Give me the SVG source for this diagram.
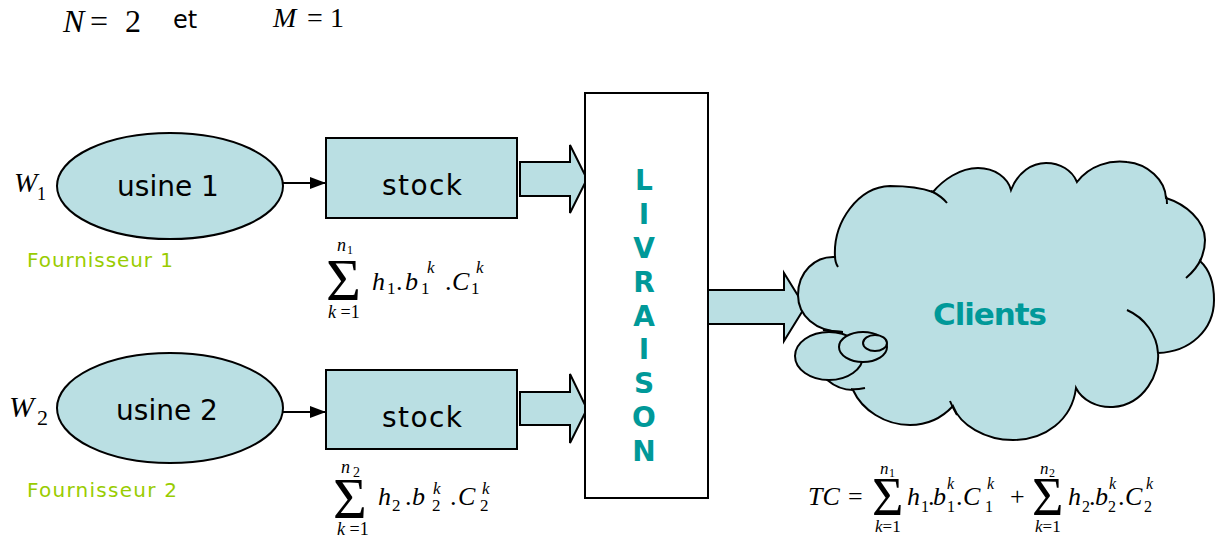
<svg xmlns="http://www.w3.org/2000/svg" width="1215" height="539" viewBox="0 0 1215 539">
<style>
.shape{fill:#BADFE3;stroke:#000;stroke-width:2}
.hint{fill:none;stroke:#000;stroke-width:2}
.lbl{font-family:"DejaVu Sans",sans-serif;font-size:28px;fill:#000;text-anchor:middle}
.four{font-family:"DejaVu Sans",sans-serif;font-size:20px;fill:#99CC00}
.teal{font-family:"DejaVu Sans",sans-serif;font-weight:bold;fill:#009999;text-anchor:middle}
.m{font-family:"Liberation Serif","Times New Roman",serif;fill:#000}
.i{font-style:italic}
</style>
<defs>
<marker id="ah" markerWidth="16" markerHeight="12" refX="16" refY="6" orient="auto" markerUnits="userSpaceOnUse">
<path d="M0,0 L16,6 L0,12 Z" fill="#000"/>
</marker>
</defs>

<g id="header">
<text class="m" font-size="32"><tspan x="63" y="32" font-style="italic">N</tspan><tspan x="90" y="32">=</tspan><tspan x="125" y="32">2</tspan></text>
<text x="173" y="28" font-family="DejaVu Sans,sans-serif" font-size="24">et</text>
<text class="m" font-size="28"><tspan x="273" y="27" font-style="italic">M</tspan><tspan x="307" y="27">=</tspan><tspan x="330" y="27">1</tspan></text>
</g>

<g id="connectors">
<line x1="283" y1="183" x2="326" y2="183" stroke="#000" stroke-width="2" marker-end="url(#ah)"/>
<line x1="283" y1="412" x2="326" y2="412" stroke="#000" stroke-width="2" marker-end="url(#ah)"/>
<polygon class="shape" points="520,162 570,162 570,145 587,179 570,213 570,196 520,196"/>
<polygon class="shape" points="520,392 570,392 570,374 587,409 570,443 570,425 520,425"/>
<polygon class="shape" points="708,290 784,290 784,273 805,307 784,341 784,324 708,324"/>
</g>

<g id="usine1">
<ellipse class="shape" cx="170" cy="186" rx="113" ry="53"/>
<text class="lbl" x="168" y="196">usine 1</text>
<text class="m"><tspan x="14" y="192" font-size="28" font-style="italic">W</tspan><tspan x="37" y="200" font-size="18">1</tspan></text>
<text class="four" x="27" y="267" textLength="146">Fournisseur 1</text>
</g>

<g id="usine2">
<ellipse class="shape" cx="170" cy="408" rx="113" ry="55"/>
<text class="lbl" x="167" y="420">usine 2</text>
<text class="m"><tspan x="9" y="417" font-size="30" font-style="italic">W</tspan><tspan x="37" y="425" font-size="22">2</tspan></text>
<text class="four" x="27" y="497" textLength="150">Fournisseur 2</text>
</g>

<g id="stock1">
<rect class="shape" x="326" y="138" width="191" height="80"/>
<text class="lbl" x="422" y="195" textLength="80">stock</text>
</g>

<g id="stock2">
<rect class="shape" x="326" y="370" width="191" height="79"/>
<text class="lbl" x="422" y="427" textLength="80">stock</text>
</g>

<g id="formula1">
<text class="m" font-size="26"><tspan x="337" y="251" font-size="18" font-style="italic">n</tspan><tspan x="347" y="254" font-size="12">1</tspan><tspan x="326" y="300" font-size="60">Σ</tspan><tspan x="328" y="318" font-size="18" font-style="italic">k</tspan><tspan font-size="18"> =1</tspan><tspan x="372" y="290" font-style="italic">h</tspan><tspan x="387" y="294" font-size="17">1</tspan><tspan x="396" y="290">.</tspan><tspan x="405" y="290" font-style="italic">b</tspan><tspan x="427" y="273" font-size="17" font-style="italic">k</tspan><tspan x="421" y="294" font-size="17">1</tspan><tspan x="445" y="290">.</tspan><tspan x="452" y="290" font-style="italic">C</tspan><tspan x="476" y="273" font-size="17" font-style="italic">k</tspan><tspan x="471" y="294" font-size="17">1</tspan></text>
</g>

<g id="formula2">
<text class="m" font-size="26"><tspan x="341" y="473" font-size="18" font-style="italic">n</tspan><tspan x="353" y="477" font-size="14">2</tspan><tspan x="333" y="518" font-size="58">Σ</tspan><tspan x="337" y="535" font-size="18" font-style="italic">k</tspan><tspan font-size="18"> =1</tspan><tspan x="378" y="505" font-style="italic">h</tspan><tspan x="392" y="511" font-size="17">2</tspan><tspan x="405" y="505">.</tspan><tspan x="412" y="505" font-style="italic">b</tspan><tspan x="433" y="494" font-size="17" font-style="italic">k</tspan><tspan x="432" y="511" font-size="17">2</tspan><tspan x="450" y="505">.</tspan><tspan x="458" y="505" font-style="italic">C</tspan><tspan x="482" y="494" font-size="17" font-style="italic">k</tspan><tspan x="480" y="511" font-size="17">2</tspan></text>
</g>

<g id="livraison">
<rect x="585" y="93" width="123" height="405" fill="#fff" stroke="#000" stroke-width="2"/>
<text class="teal" font-size="28"><tspan x="644" y="190">L</tspan><tspan x="644" y="224">I</tspan><tspan x="644" y="258">V</tspan><tspan x="644" y="292">R</tspan><tspan x="644" y="326">A</tspan><tspan x="644" y="359">I</tspan><tspan x="644" y="393">S</tspan><tspan x="644" y="427">O</tspan><tspan x="644" y="461">N</tspan></text>
</g>

<g id="clients">
<path class="shape" d="M843,332 C815,332 798,315 798,295 C798,272 815,256 835,257 C833,222 858,187 890,186 C908,186 922,188 933,192 C943,180 960,168 978,168 C995,168 1008,178 1011,190 C1018,172 1032,163 1046,163 C1060,163 1072,170 1077,182 C1090,165 1110,160 1127,162 C1148,164 1165,180 1166,198 C1185,204 1205,220 1205,240 C1205,248 1203,255 1200,261 C1210,270 1214,285 1214,300 C1214,330 1190,352 1158,353 C1160,372 1145,405 1113,407 C1097,408 1082,400 1076,388 C1072,420 1045,440 1013,440 C985,440 960,425 953,406 C940,420 925,425 910,425 C885,425 862,410 853,390 C835,390 815,375 815,355 C815,340 828,332 843,332 Z"/>
<path class="hint" d="M835,256 C835,260 836,264 838,267"/>
<path class="hint" d="M931,191 C937,194 943,198 947,203"/>
<path class="hint" d="M1166,196 C1167,199 1167,201 1167,204"/>
<path class="hint" d="M1201,259 C1198,266 1193,272 1186,278"/>
<path class="hint" d="M1127,310 C1145,318 1157,335 1158,353"/>
<path class="hint" d="M957,415 C954,410 952,406 950,401"/>
<path class="hint" d="M851,389 C855,390 860,389 865,388"/>
<path class="hint" d="M823,330 C830,331 837,332 843,332"/>
<ellipse class="shape" cx="829" cy="356" rx="34" ry="24"/>
<ellipse class="shape" cx="863" cy="347" rx="24" ry="15"/>
<ellipse class="shape" cx="875" cy="343" rx="12" ry="8"/>
<text class="teal" x="990" y="325" font-size="31" textLength="114">Clients</text>
</g>

<g id="total">
<text class="m" font-size="26"><tspan x="808" y="505" font-style="italic">TC</tspan><tspan x="848" y="505">=</tspan><tspan x="880" y="474" font-size="17" font-style="italic">n</tspan><tspan x="889" y="477" font-size="12">1</tspan><tspan x="872" y="515" font-size="54">Σ</tspan><tspan x="875" y="532" font-size="17" font-style="italic">k</tspan><tspan font-size="17">=1</tspan><tspan x="907" y="505" font-style="italic">h</tspan><tspan x="921" y="512" font-size="16">1</tspan><tspan x="928" y="505">.</tspan><tspan x="933" y="505" font-style="italic">b</tspan><tspan x="947" y="489" font-size="16" font-style="italic">k</tspan><tspan x="947" y="512" font-size="16">1</tspan><tspan x="956" y="505">.</tspan><tspan x="963" y="505" font-style="italic">C</tspan><tspan x="987" y="489" font-size="16" font-style="italic">k</tspan><tspan x="985" y="512" font-size="16">1</tspan><tspan x="1010" y="505">+</tspan><tspan x="1040" y="474" font-size="17" font-style="italic">n</tspan><tspan x="1049" y="477" font-size="12">2</tspan><tspan x="1032" y="515" font-size="54">Σ</tspan><tspan x="1035" y="532" font-size="17" font-style="italic">k</tspan><tspan font-size="17">=1</tspan><tspan x="1068" y="505" font-style="italic">h</tspan><tspan x="1082" y="512" font-size="16">2</tspan><tspan x="1089" y="505">.</tspan><tspan x="1095" y="505" font-style="italic">b</tspan><tspan x="1109" y="489" font-size="16" font-style="italic">k</tspan><tspan x="1108" y="512" font-size="16">2</tspan><tspan x="1118" y="505">.</tspan><tspan x="1125" y="505" font-style="italic">C</tspan><tspan x="1146" y="489" font-size="16" font-style="italic">k</tspan><tspan x="1144" y="512" font-size="16">2</tspan></text>
</g>
</svg>
